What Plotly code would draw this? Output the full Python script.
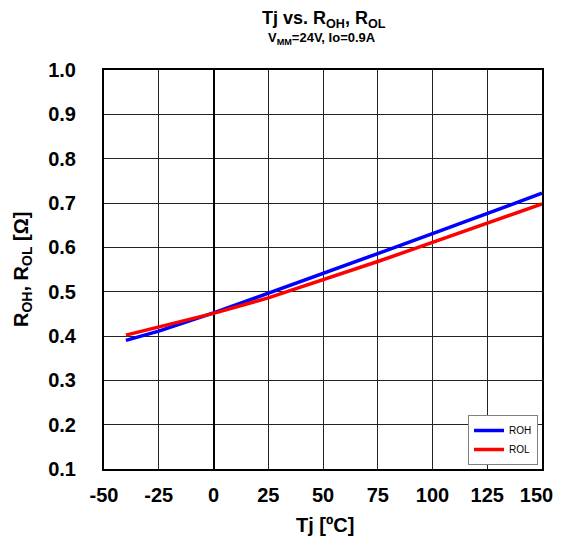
import plotly.graph_objects as go

tj = [-40, -25, 0, 25, 50, 75, 100, 125, 150]
roh = [0.390, 0.411, 0.452, 0.496, 0.541, 0.586, 0.631, 0.677, 0.722]
rol = [0.402, 0.420, 0.451, 0.486, 0.526, 0.568, 0.611, 0.654, 0.698]

x_ticks = [-50, -25, 0, 25, 50, 75, 100, 125, 150]
x_labels = ["-50", "-25", "0", "25", "50", "75", "100", "125", "150\u00a0\u00a0"]
y_ticks = [0.1, 0.2, 0.3, 0.4, 0.5, 0.6, 0.7, 0.8, 0.9, 1.0]

font = "Arial, Liberation Sans, sans-serif"
OFF = 8  # default page body margin
W, H = 561 - OFF, 544 - 2 * OFF
L, R, T, B = 104 - OFF, 561 - 542, 70 - OFF, (H + OFF) - 469

fig = go.Figure()
fig.add_trace(go.Scatter(x=tj, y=roh, mode="lines", name="ROH",
                         line=dict(color="#0000FF", width=3.5)))
fig.add_trace(go.Scatter(x=tj, y=rol, mode="lines", name="ROL",
                         line=dict(color="#FF0000", width=3.5)))

def px_x(p):
    return (p - OFF - L) / (W - L - R)

def px_y(p):
    return (H - B - (p - OFF)) / (H - T - B)

fig.update_layout(
    width=W, height=H,
    margin=dict(l=L, r=R, t=T, b=B, autoexpand=False),
    paper_bgcolor="white", plot_bgcolor="white",
    font=dict(family=font, color="black"),
    legend=dict(
        x=px_x(468), y=px_y(415), xanchor="left", yanchor="top",
        bgcolor="white", bordercolor="#808080", borderwidth=1,
        font=dict(size=10, family=font, color="black"),
        itemwidth=30, tracegroupgap=2,
    ),
    showlegend=True,
    annotations=[
        dict(text="<b>Tj vs. R<sub>OH</sub>, R<sub>OL</sub></b>", x=px_x(324), y=px_y(20),
             xref="paper", yref="paper", xanchor="center", yanchor="middle",
             showarrow=False, font=dict(size=18, family=font, color="black")),
        dict(text="<b>V<sub>MM</sub>=24V, Io=0.9A</b>", x=px_x(322), y=px_y(39),
             xref="paper", yref="paper", xanchor="center", yanchor="middle",
             showarrow=False, font=dict(size=13, family=font, color="black")),
        dict(text="<b>Tj [ºC]</b>", x=px_x(325), y=px_y(525),
             xref="paper", yref="paper", xanchor="center", yanchor="middle",
             showarrow=False, font=dict(size=20, family=font, color="black")),
        dict(text="<b>R<sub>OH</sub>, R<sub>OL</sub> [Ω]</b>", x=px_x(22), y=px_y(270),
             xref="paper", yref="paper", xanchor="center", yanchor="middle",
             textangle=-90, showarrow=False, font=dict(size=20, family=font, color="black")),
    ],
)

fig.update_xaxes(
    range=[-50, 150], tickvals=x_ticks,
    ticktext=[f"<b>{t}</b>" for t in x_labels],
    tickfont=dict(size=20, family=font, color="black"),
    showgrid=True, gridcolor="#222222", gridwidth=1,
    zeroline=True, zerolinecolor="black", zerolinewidth=2,
    showline=True, linecolor="black", linewidth=2, mirror=True,
    ticks="", ticklabelstandoff=7, automargin=False,
    ticklabeloverflow="allow",
)
fig.update_yaxes(
    range=[0.1, 1.0], tickvals=y_ticks,
    ticktext=[f"<b>{v:.1f}</b>" for v in y_ticks],
    tickfont=dict(size=20, family=font, color="black"),
    showgrid=True, gridcolor="#222222", gridwidth=1,
    zeroline=False,
    showline=True, linecolor="black", linewidth=2, mirror=True,
    ticks="", ticklabelstandoff=22, automargin=False,
)

fig.write_html("out.html")
